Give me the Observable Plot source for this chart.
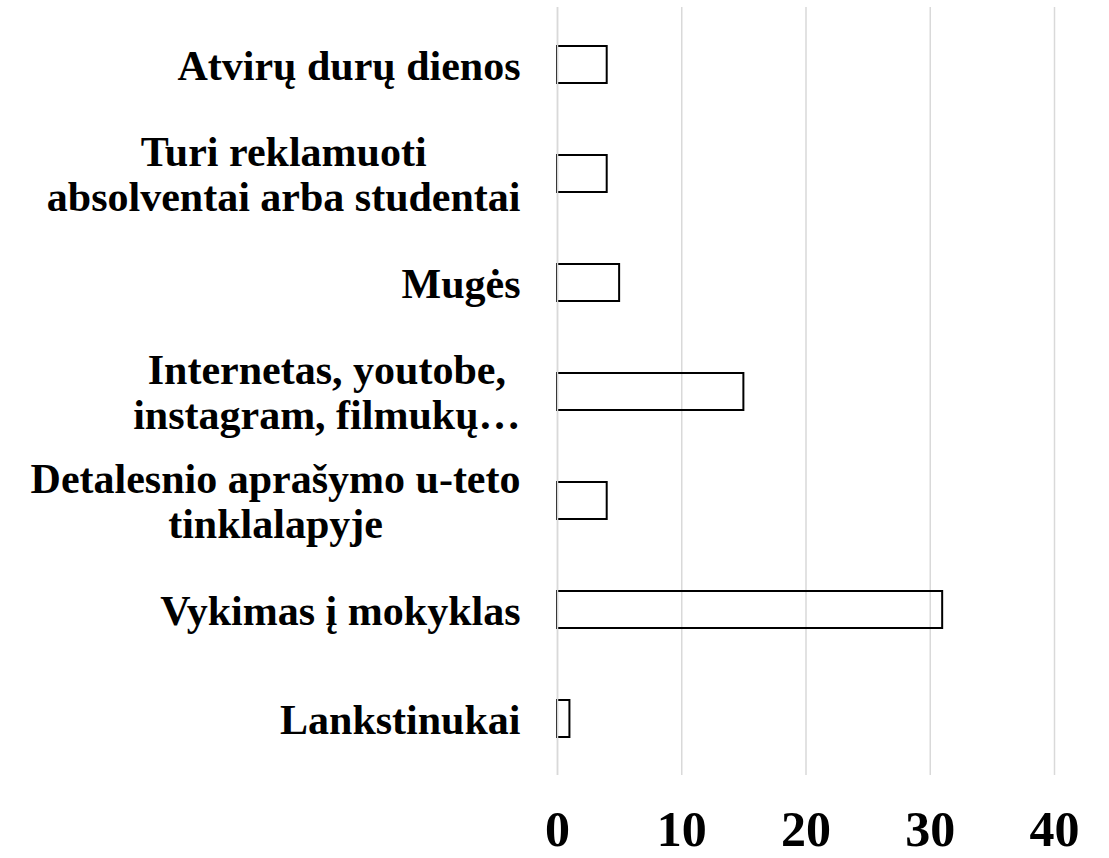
<!DOCTYPE html>
<html>
<head>
<meta charset="utf-8">
<script src="https://cdn.jsdelivr.net/npm/d3@7"></script>
<script src="https://cdn.jsdelivr.net/npm/@observablehq/plot@0.6"></script>
<style>
  html, body { margin: 0; padding: 0; background: white; }
</style>
</head>
<body>
<div id="chart"></div>
<script>
const categories = [
  "Atvirų durų dienos",
  "Turi reklamuoti\nabsolventai arba studentai",
  "Mugės",
  "Internetas, youtobe,\ninstagram, filmukų…",
  "Detalesnio aprašymo u-teto\ntinklalapyje",
  "Vykimas į mokyklas",
  "Lankstinukai"
];
const values = [4, 4, 5, 15, 4, 31, 1];
const xTicks = [0, 10, 20, 30, 40];

const data = categories.map((c, i) => ({category: c, value: values[i]}));

const FONT = "'Liberation Serif', 'Times New Roman', serif";
const ctx = document.createElement("canvas").getContext("2d");
ctx.font = "bold 42px 'Liberation Serif'";
function blockWidth(s) {
  return Math.max(...s.split("\n").map(l => ctx.measureText(l).width));
}

const labelMarks = data.map(d =>
  Plot.text([d], {
    y: "category",
    text: "category",
    frameAnchor: "left",
    textAnchor: "middle",
    dx: -(37 + blockWidth(d.category) / 2),
    fontSize: 42,
    fontWeight: "bold",
    lineHeight: 1.08,
    fill: "black"
  })
);

const chart = Plot.plot({
  width: 1109,
  height: 858,
  marginLeft: 557,
  marginRight: 55,
  marginTop: 7,
  marginBottom: 83,
  x: {domain: [0, 40], ticks: xTicks},
  y: {domain: categories, padding: 0, axis: null},
  style: {fontFamily: FONT, fontWeight: "bold", background: "white", color: "black"},
  marks: [
    Plot.gridX(xTicks, {stroke: "#d9d9d9", strokeOpacity: 1, strokeWidth: 1.5}),
    Plot.barX(data, {x: "value", y: "category", fill: "none", stroke: "black", strokeWidth: 2, insetTop: 36, insetBottom: 36}),
    Plot.ruleX([0], {stroke: "#d9d9d9", strokeWidth: 1.5}),
    Plot.axisX(xTicks, {tickSize: 0, tickPadding: 35, fontSize: 50, fontWeight: "bold", label: null, fill: "black"}),
    ...labelMarks
  ]
});
document.getElementById("chart").appendChild(chart);
</script>
</body>
</html>
